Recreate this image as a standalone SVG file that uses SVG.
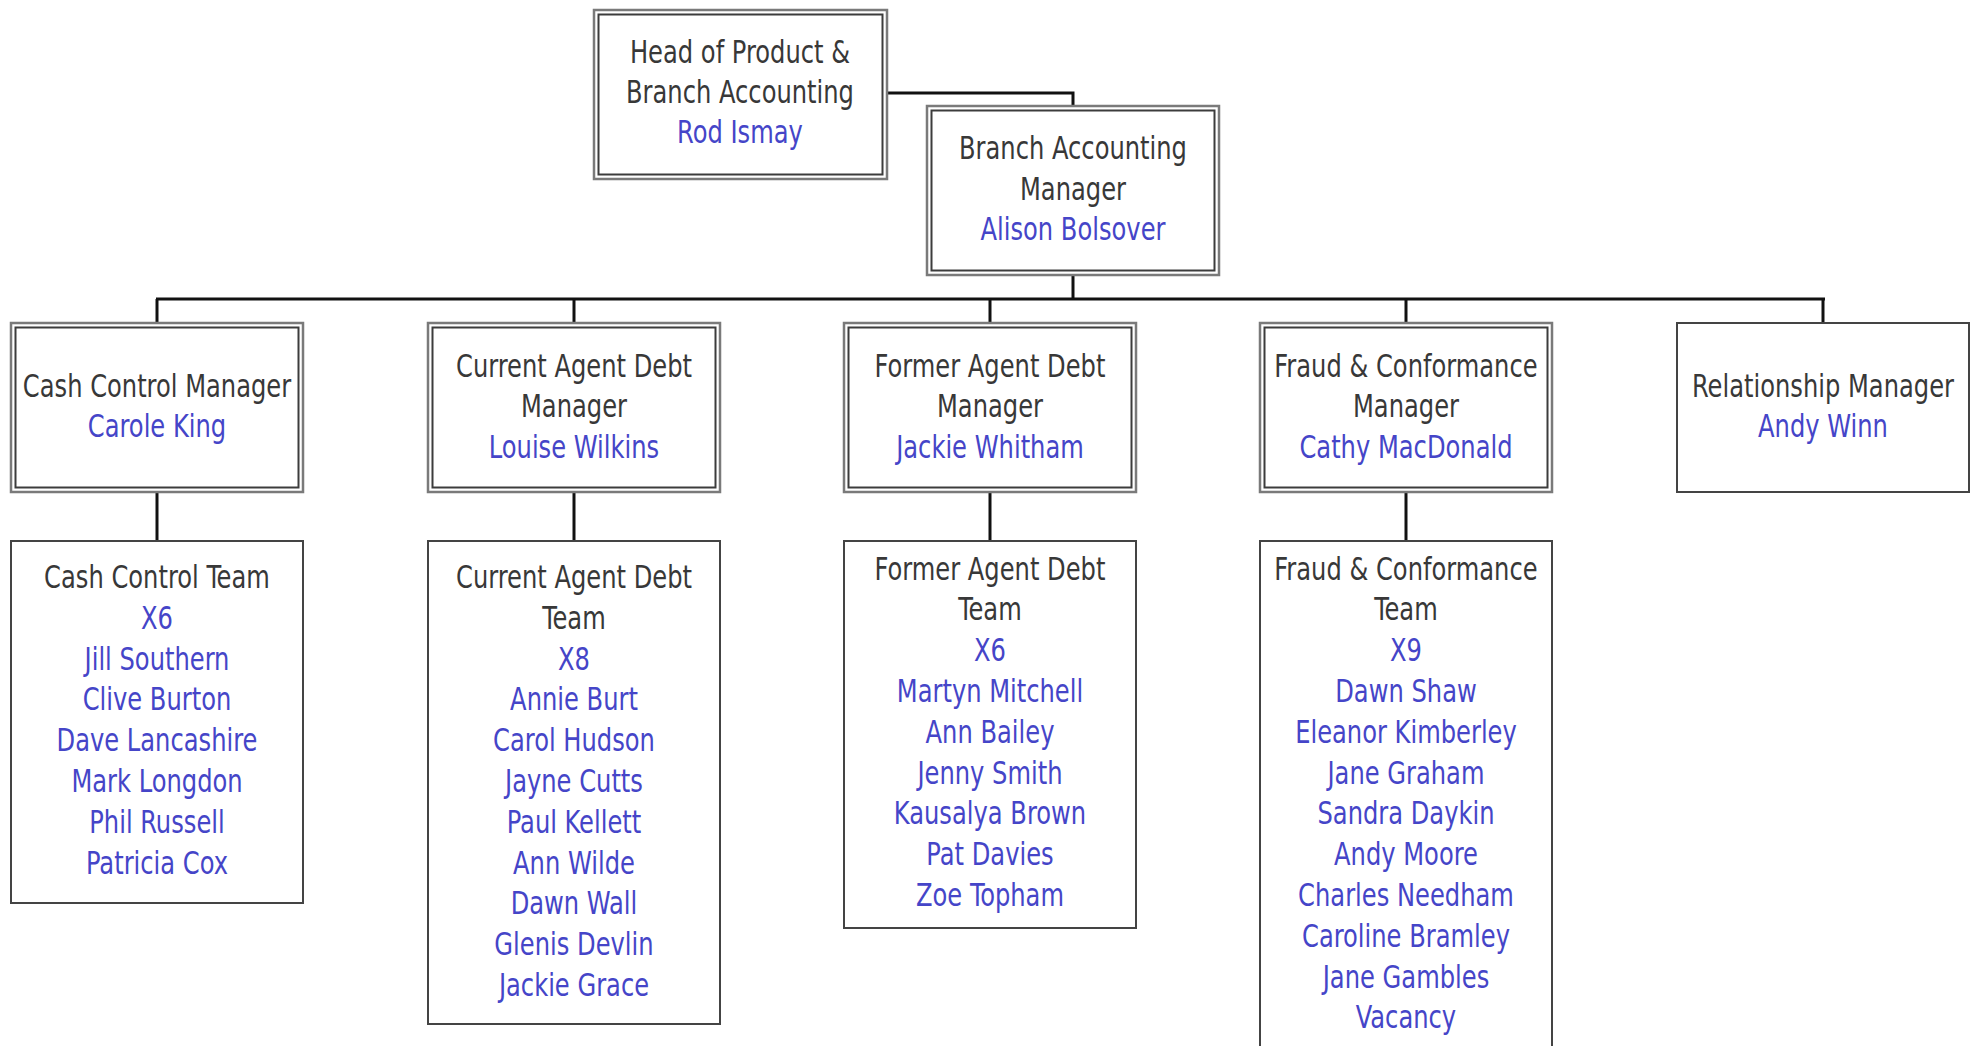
<svg xmlns="http://www.w3.org/2000/svg" width="1972" height="1046" viewBox="0 0 1972 1046">
<style>
text{font-family:"DejaVu Sans Condensed","DejaVu Sans","Liberation Sans",sans-serif;font-stretch:condensed;font-size:32px;text-anchor:middle}
.t{fill:#383838}
.n{fill:#4545c8}
.outer{fill:#fff;stroke:#7a7a7a;stroke-width:2.5}
.inner{fill:none;stroke:#3c3c3c;stroke-width:2}
.single{fill:#fff;stroke:#444;stroke-width:2}
.conn{fill:none;stroke:#111;stroke-width:3}
</style>
<rect width="1972" height="1046" fill="#fff"/>
<g id="connectors">
<polyline class="conn" points="887,93 1073,93 1073,106"/>
<line class="conn" x1="1073" y1="275" x2="1073" y2="299"/>
<line class="conn" x1="156" y1="299" x2="1825" y2="299"/>
<line class="conn" x1="157" y1="299" x2="157" y2="323"/>
<line class="conn" x1="574" y1="299" x2="574" y2="323"/>
<line class="conn" x1="990" y1="299" x2="990" y2="323"/>
<line class="conn" x1="1406" y1="299" x2="1406" y2="323"/>
<line class="conn" x1="1823" y1="299" x2="1823" y2="323"/>
<line class="conn" x1="157" y1="492" x2="157" y2="541"/>
<line class="conn" x1="574" y1="492" x2="574" y2="541"/>
<line class="conn" x1="990" y1="492" x2="990" y2="541"/>
<line class="conn" x1="1406" y1="492" x2="1406" y2="541"/>
</g>
<g id="head">
<rect class="outer" x="594" y="10" width="293" height="169"/>
<rect class="inner" x="598.5" y="14.5" width="284" height="160"/>
<g transform="scale(0.84 1)">
<text class="t" x="880.95" y="63">Head of Product &amp;</text>
<text class="t" x="880.95" y="103">Branch Accounting</text>
<text class="n" x="880.95" y="143">Rod Ismay</text>
</g>
</g>
<g id="bam">
<rect class="outer" x="927" y="106" width="292" height="169"/>
<rect class="inner" x="931.5" y="110.5" width="283" height="160"/>
<g transform="scale(0.84 1)">
<text class="t" x="1277.38" y="159">Branch Accounting</text>
<text class="t" x="1277.38" y="200">Manager</text>
<text class="n" x="1277.38" y="240">Alison Bolsover</text>
</g>
</g>
<g id="cash-mgr">
<rect class="outer" x="11" y="323" width="292" height="169"/>
<rect class="inner" x="15.5" y="327.5" width="283" height="160"/>
<g transform="scale(0.84 1)">
<text class="t" x="186.9" y="397">Cash Control Manager</text>
<text class="n" x="186.9" y="437">Carole King</text>
</g>
</g>
<g id="current-mgr">
<rect class="outer" x="428" y="323" width="292" height="169"/>
<rect class="inner" x="432.5" y="327.5" width="283" height="160"/>
<g transform="scale(0.84 1)">
<text class="t" x="683.33" y="377">Current Agent Debt</text>
<text class="t" x="683.33" y="417">Manager</text>
<text class="n" x="683.33" y="458">Louise Wilkins</text>
</g>
</g>
<g id="former-mgr">
<rect class="outer" x="844" y="323" width="292" height="169"/>
<rect class="inner" x="848.5" y="327.5" width="283" height="160"/>
<g transform="scale(0.84 1)">
<text class="t" x="1178.57" y="377">Former Agent Debt</text>
<text class="t" x="1178.57" y="417">Manager</text>
<text class="n" x="1178.57" y="458">Jackie Whitham</text>
</g>
</g>
<g id="fraud-mgr">
<rect class="outer" x="1260" y="323" width="292" height="169"/>
<rect class="inner" x="1264.5" y="327.5" width="283" height="160"/>
<g transform="scale(0.84 1)">
<text class="t" x="1673.81" y="377">Fraud &amp; Conformance</text>
<text class="t" x="1673.81" y="417">Manager</text>
<text class="n" x="1673.81" y="458">Cathy MacDonald</text>
</g>
</g>
<g id="relationship-mgr">
<rect class="single" x="1677" y="323" width="292" height="169"/>
<g transform="scale(0.84 1)">
<text class="t" x="2170.24" y="397">Relationship Manager</text>
<text class="n" x="2170.24" y="437">Andy Winn</text>
</g>
</g>
<g id="cash-team">
<rect class="single" x="11" y="541" width="292" height="362"/>
<g transform="scale(0.84 1)">
<text class="t" x="186.9" y="588">Cash Control Team</text>
<text class="n" x="186.9" y="629">X6</text>
<text class="n" x="186.9" y="670">Jill Southern</text>
<text class="n" x="186.9" y="710">Clive Burton</text>
<text class="n" x="186.9" y="751">Dave Lancashire</text>
<text class="n" x="186.9" y="792">Mark Longdon</text>
<text class="n" x="186.9" y="833">Phil Russell</text>
<text class="n" x="186.9" y="874">Patricia Cox</text>
</g>
</g>
<g id="current-team">
<rect class="single" x="428" y="541" width="292" height="483"/>
<g transform="scale(0.84 1)">
<text class="t" x="683.33" y="588">Current Agent Debt</text>
<text class="t" x="683.33" y="629">Team</text>
<text class="n" x="683.33" y="670">X8</text>
<text class="n" x="683.33" y="710">Annie Burt</text>
<text class="n" x="683.33" y="751">Carol Hudson</text>
<text class="n" x="683.33" y="792">Jayne Cutts</text>
<text class="n" x="683.33" y="833">Paul Kellett</text>
<text class="n" x="683.33" y="874">Ann Wilde</text>
<text class="n" x="683.33" y="914">Dawn Wall</text>
<text class="n" x="683.33" y="955">Glenis Devlin</text>
<text class="n" x="683.33" y="996">Jackie Grace</text>
</g>
</g>
<g id="former-team">
<rect class="single" x="844" y="541" width="292" height="387"/>
<g transform="scale(0.84 1)">
<text class="t" x="1178.57" y="580">Former Agent Debt</text>
<text class="t" x="1178.57" y="620">Team</text>
<text class="n" x="1178.57" y="661">X6</text>
<text class="n" x="1178.57" y="702">Martyn Mitchell</text>
<text class="n" x="1178.57" y="743">Ann Bailey</text>
<text class="n" x="1178.57" y="784">Jenny Smith</text>
<text class="n" x="1178.57" y="824">Kausalya Brown</text>
<text class="n" x="1178.57" y="865">Pat Davies</text>
<text class="n" x="1178.57" y="906">Zoe Topham</text>
</g>
</g>
<g id="fraud-team">
<rect class="single" x="1260" y="541" width="292" height="520"/>
<g transform="scale(0.84 1)">
<text class="t" x="1673.81" y="580">Fraud &amp; Conformance</text>
<text class="t" x="1673.81" y="620">Team</text>
<text class="n" x="1673.81" y="661">X9</text>
<text class="n" x="1673.81" y="702">Dawn Shaw</text>
<text class="n" x="1673.81" y="743">Eleanor Kimberley</text>
<text class="n" x="1673.81" y="784">Jane Graham</text>
<text class="n" x="1673.81" y="824">Sandra Daykin</text>
<text class="n" x="1673.81" y="865">Andy Moore</text>
<text class="n" x="1673.81" y="906">Charles Needham</text>
<text class="n" x="1673.81" y="947">Caroline Bramley</text>
<text class="n" x="1673.81" y="988">Jane Gambles</text>
<text class="n" x="1673.81" y="1028">Vacancy</text>
</g>
</g>
</svg>
